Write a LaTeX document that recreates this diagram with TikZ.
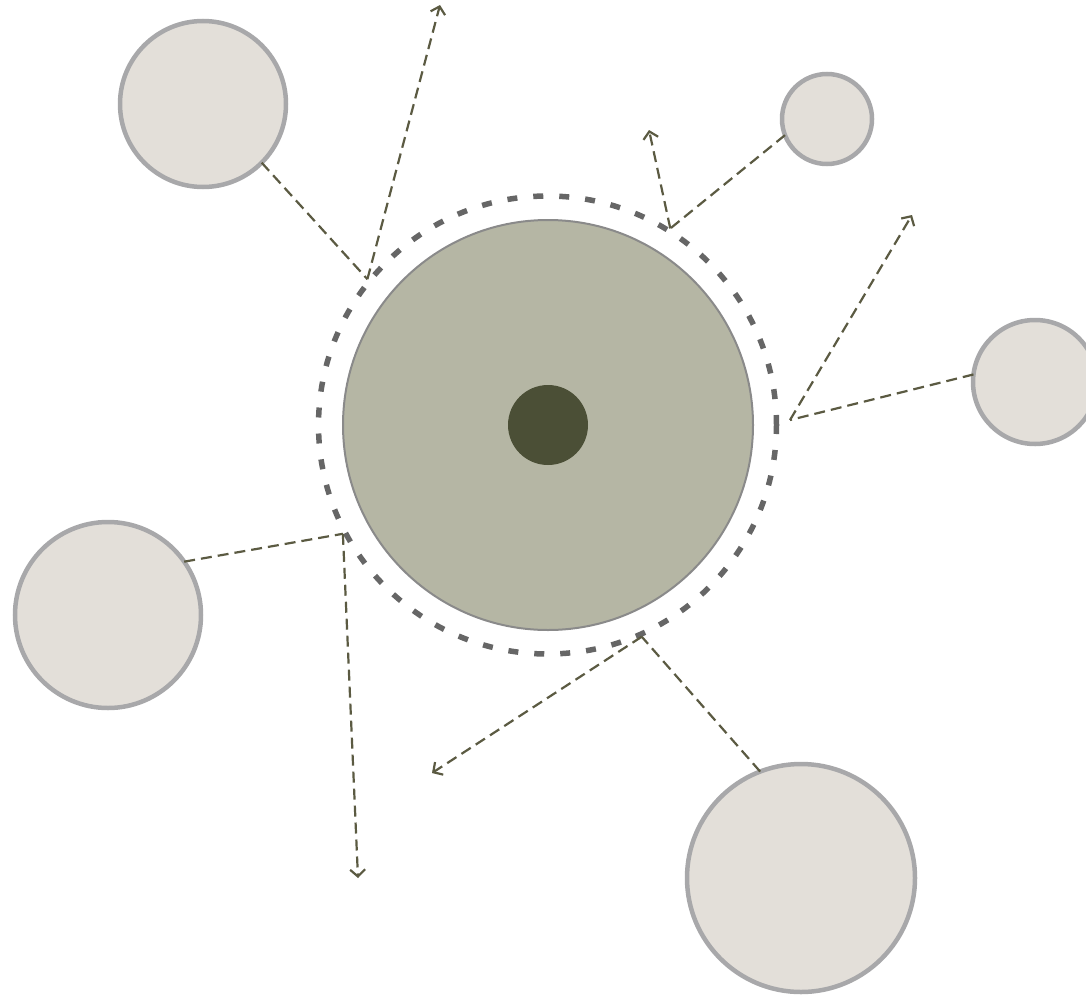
\documentclass[tikz,border=0pt]{standalone}
\usepackage{xcolor}
\usepackage{tikz}
\usetikzlibrary{arrows.meta,positioning,calc}
\definecolor{coreFill}{HTML}{B5B6A4}
\definecolor{coreLine}{HTML}{8A8A8A}
\definecolor{seedFill}{HTML}{4B4F36}
\definecolor{satFill}{HTML}{E3DFD9}
\definecolor{satLine}{HTML}{A8A8AA}
\definecolor{ringLine}{HTML}{666666}
\definecolor{linkLine}{HTML}{5B5A42}

\begin{document}
\begin{tikzpicture}[x=1pt,y=-1pt,
  core/.style={circle,draw=coreLine,line width=2pt,fill=coreFill,inner sep=0pt,minimum size=410pt},
  seed/.style={circle,fill=seedFill,inner sep=0pt,minimum size=80pt},
  ring/.style={circle,draw=ringLine,line width=5.5pt,dash pattern=on 10pt off 16pt,inner sep=0pt,minimum size=458pt},
  sat/.style={circle,draw=satLine,line width=4.5pt,fill=satFill,inner sep=0pt,outer sep=0pt},
  lk/.style={draw=linkLine,line width=2.2pt,dash pattern=on 11pt off 6pt},
  ar/.style={lk,-{Straight Barb[length=7pt,width=15pt,line width=2.2pt]}}
]
\useasboundingbox (0,0) rectangle (1086,998);
\node[core] (cr) at (548,425) {};
\node[seed] (sd) at (548,425) {};
\node[ring] (rg) at (547.5,425) {};
% outer circles
\node[sat,minimum size=166pt] (s1) at (203,104) {};
\node[sat,minimum size=90pt] (s2) at (827,119) {};
\node[sat,minimum size=124pt] (s3) at (1035,382) {};
\node[sat,minimum size=186pt] (s4) at (108,615) {};
\node[sat,minimum size=228pt] (s5) at (801,878) {};
% junctions and free ends
\coordinate (j1) at (rg.141.6);
\coordinate (j2) at (rg.58.3);
\coordinate (j3) at (790,420);
\coordinate (j4) at (rg.208);
\coordinate (j5) at (rg.-66.2);
\coordinate (e1) at (440,5);
\coordinate (e2) at (649,130);
\coordinate (e3) at (912,215);
\coordinate (e4) at (358,878);
\coordinate (e5) at (432,773);
\foreach \s/\a/\j/\e in {s1/-45/j1/e1,s2/201/j2/e2,s3/173/j3/e3,s4/35.5/j4/e4,s5/111/j5/e5}{
  \draw[lk] (\s.\a) -- (\j);
  \draw[ar] (\j) -- (\e);
}
\end{tikzpicture}
\end{document}
